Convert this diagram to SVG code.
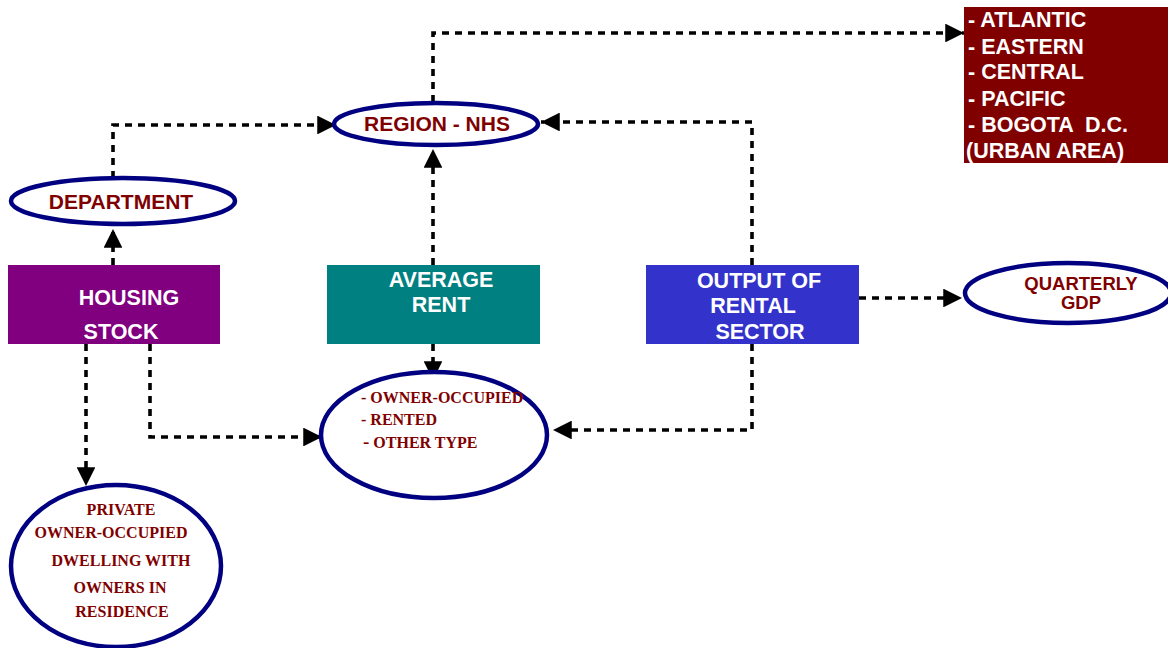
<svg xmlns="http://www.w3.org/2000/svg" width="1168" height="648" viewBox="0 0 1168 648">
<defs>
<marker id="ah" viewBox="0 0 10 10" refX="10" refY="5" markerWidth="5.6" markerHeight="5.2" markerUnits="strokeWidth" orient="auto">
<path d="M0,0 L10,5 L0,10 Z" fill="#000"/>
</marker>
<style>
.c{fill:none;stroke:#000;stroke-width:3.6;stroke-dasharray:7 6;marker-end:url(#ah)}
.el{fill:#fff;stroke:#000080;stroke-width:4.5}
.et{font-family:"Liberation Sans",Arial,sans-serif;font-weight:bold;fill:#800000;text-anchor:middle}
.st{font-family:"Liberation Serif","Times New Roman",serif;font-weight:bold;fill:#800000}
.wt{font-family:"Liberation Sans",Arial,sans-serif;font-weight:bold;fill:#fff;font-size:21.5px;text-anchor:middle}
.rt{font-family:"Liberation Sans",Arial,sans-serif;font-weight:bold;fill:#fff;font-size:21.5px}
</style>
</defs>
<rect width="1168" height="648" fill="#fff"/>
<g id="connectors">
<path class="c" d="M113,265 V229"/>
<path class="c" d="M113,178 V125 H336"/>
<path class="c" d="M433,265 V149"/>
<path class="c" d="M433,102 V33 H964"/>
<path class="c" d="M752,265 V122 H541"/>
<path class="c" d="M859,298 H962"/>
<path class="c" d="M752,344 V430 H553"/>
<path class="c" d="M433,344 V380"/>
<path class="c" d="M150,344 V437 H322"/>
<path class="c" d="M86,344 V486"/>
</g>
<g id="regions">
<rect x="964" y="7" width="204" height="156" fill="#800000"/>
<text class="rt" x="968" y="27">- ATLANTIC</text>
<text class="rt" x="968" y="54">- EASTERN</text>
<text class="rt" x="968" y="79">- CENTRAL</text>
<text class="rt" x="968" y="106">- PACIFIC</text>
<text class="rt" x="968" y="132" xml:space="preserve">- BOGOTA  D.C.</text>
<text class="rt" x="966" y="158">(URBAN AREA)</text>
</g>
<g id="region-nhs">
<ellipse class="el" cx="436" cy="124" rx="102" ry="21"/>
<text class="et" x="437" y="131" font-size="21">REGION - NHS</text>
</g>
<g id="department">
<ellipse class="el" cx="123" cy="201" rx="112" ry="23"/>
<text class="et" x="121" y="209" font-size="21">DEPARTMENT</text>
</g>
<g id="housing-stock">
<rect x="8" y="265" width="212" height="79" fill="#800080"/>
<text class="wt" x="129" y="305">HOUSING</text>
<text class="wt" x="121" y="339">STOCK</text>
</g>
<g id="average-rent">
<rect x="327" y="265" width="213" height="79" fill="#008080"/>
<text class="wt" x="441" y="287">AVERAGE</text>
<text class="wt" x="441" y="312">RENT</text>
</g>
<g id="output-rental">
<rect x="646" y="265" width="213" height="79" fill="#3333cc"/>
<text class="wt" x="759" y="288">OUTPUT OF</text>
<text class="wt" x="753" y="313">RENTAL</text>
<text class="wt" x="760" y="339">SECTOR</text>
</g>
<g id="quarterly-gdp">
<ellipse class="el" cx="1068" cy="293" rx="103" ry="30"/>
<text class="et" x="1081" y="290" font-size="18.5">QUARTERLY</text>
<text class="et" x="1081" y="309" font-size="18.5">GDP</text>
</g>
<g id="dwelling-type">
<ellipse class="el" cx="434" cy="435" rx="113" ry="63"/>
<text class="st" x="361" y="403" font-size="16">- OWNER-OCCUPIED</text>
<text class="st" x="361" y="425" font-size="16">- RENTED</text>
<text class="st" x="363" y="448" font-size="16"><tspan font-size="19">-</tspan> OTHER TYPE</text>
</g>
<g id="private">
<ellipse class="el" cx="116" cy="566" rx="105" ry="81"/>
<text class="st" x="121" y="515" font-size="16" text-anchor="middle">PRIVATE</text>
<text class="st" x="111" y="538" font-size="16" text-anchor="middle">OWNER-OCCUPIED</text>
<text class="st" x="121" y="566" font-size="16" text-anchor="middle">DWELLING WITH</text>
<text class="st" x="120" y="593" font-size="16" text-anchor="middle">OWNERS IN</text>
<text class="st" x="122" y="617" font-size="16" text-anchor="middle">RESIDENCE</text>
</g>
</svg>
